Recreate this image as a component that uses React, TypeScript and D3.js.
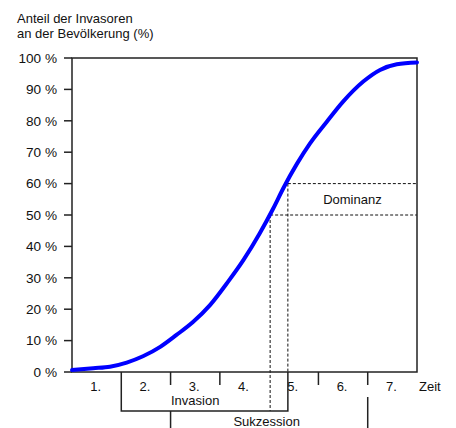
import React from "react";
import * as d3 from "d3";

// Curve: share of invaders over time (time in phase units 0..7)
const curveTime = [0, 0.43, 0.77, 1.11, 1.44, 1.79, 2.12, 2.46, 2.8, 3.14, 3.48, 3.81, 4.08, 4.29, 4.56, 4.83, 5.17, 5.5, 5.91, 6.25, 6.59, 7];
const curveShare = [0.6, 1.2, 1.7, 3, 5, 8, 11.8, 16, 21.3, 28.2, 35.7, 44.2, 52, 58.6, 66.2, 72.8, 79.7, 86.1, 92.5, 96.2, 98, 98.6];

const yTicks = [0, 10, 20, 30, 40, 50, 60, 70, 80, 90, 100];
const phaseLabels = ["1.", "2.", "3.", "4.", "5.", "6.", "7."];
const shortTicks = [2, 3, 5, 6];
const thresholdShares = [50, 60];
const thresholdTimes = [4.02, 4.38];
const titleLines = ["Anteil der Invasoren", "an der Bevölkerung (%)"];

const W = 456;
const H = 428;
const left = 72;
const right = 417;
const top = 58;
const bottom = 372;
const font = "Liberation Sans, Arial, sans-serif";

export default function App() {
  const x = d3.scaleLinear().domain([0, 7]).range([left, right]);
  const y = d3.scaleLinear().domain([0, 100]).range([bottom, top]);
  const pts: [number, number][] = curveTime.map((t, i) => [t, curveShare[i]]);
  const line = d3
    .line<[number, number]>()
    .x((d) => x(d[0]))
    .y((d) => y(d[1]))
    .curve(d3.curveMonotoneX);

  const xInv = x(thresholdTimes[0]);
  const xDom = x(thresholdTimes[1]);
  const y50 = y(thresholdShares[0]);
  const y60 = y(thresholdShares[1]);
  const bracketY = 411;
  const stroke = "#222";

  return (
    <svg
      width={W}
      height={H}
      style={{ position: "absolute", left: 0, top: 0, background: "#fff" }}
      fontFamily={font}
      fontSize={13}
    >
      <rect width={W} height={H} fill="#fff" />
      {/* title */}
      {titleLines.map((t, i) => (
        <text key={t} x={17} y={23 + i * 14.5} fill="#111">
          {t}
        </text>
      ))}
      {/* y ticks and labels */}
      {yTicks.map((v) => (
        <g key={v}>
          <line x1={left - 8} x2={left} y1={y(v)} y2={y(v)} stroke={stroke} strokeWidth={1.5} />
          <text x={57} y={y(v)} dy="0.36em" textAnchor="end" fill="#111" fontSize={13.6}>
            {`${v} %`}
          </text>
        </g>
      ))}
      {/* dashed guides */}
      <g stroke="#111" strokeWidth={1} strokeDasharray="3,2" fill="none">
        <line x1={xDom} x2={right} y1={y60} y2={y60} />
        <line x1={xInv} x2={right} y1={y50} y2={y50} />
        <line x1={xDom} x2={xDom} y1={y60} y2={bottom} />
        <line x1={xInv} x2={xInv} y1={y50} y2={bracketY} />
      </g>
      <text x={(xDom + right) / 2} y={(y50 + y60) / 2} dy="0.36em" textAnchor="middle" fill="#111">
        Dominanz
      </text>
      {/* frame */}
      <rect x={left} y={top} width={right - left} height={bottom - top} fill="none" stroke={stroke} strokeWidth={1.5} />
      {/* curve */}
      <path d={line(pts) || ""} fill="none" stroke="#0000ff" strokeWidth={4} strokeLinecap="round" />
      {/* x short ticks */}
      {shortTicks.map((k) => (
        <line key={k} x1={x(k)} x2={x(k)} y1={bottom} y2={bottom + 13} stroke={stroke} strokeWidth={1.5} />
      ))}
      {/* phase labels */}
      {phaseLabels.map((l, i) => (
        <text key={l} x={x(i + 0.5) - 1} y={391} textAnchor="middle" fill="#111">
          {l}
        </text>
      ))}
      <text x={right + 2} y={391} fill="#111">
        Zeit
      </text>
      {/* Invasion bracket */}
      <path
        d={`M${x(1)},${bottom}V${bracketY}H${xDom}V${bottom}`}
        fill="none"
        stroke={stroke}
        strokeWidth={1.5}
      />
      <text x={x(2.5)} y={405} textAnchor="middle" fill="#111">
        Invasion
      </text>
      {/* Sukzession bracket */}
      <line x1={x(2)} x2={x(2)} y1={bracketY} y2={H} stroke={stroke} strokeWidth={1.5} />
      <line x1={x(6)} x2={x(6)} y1={397} y2={H} stroke={stroke} strokeWidth={1.5} />
      <text x={x(3.95)} y={426} textAnchor="middle" fill="#111">
        Sukzession
      </text>
    </svg>
  );
}
